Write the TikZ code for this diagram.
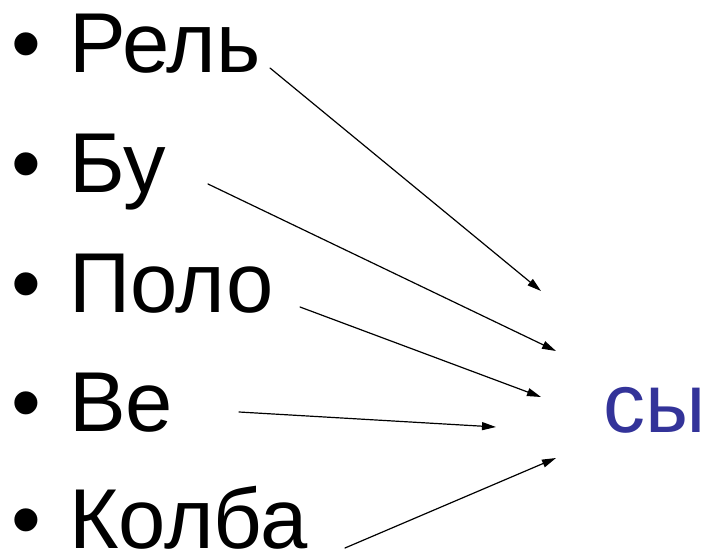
\documentclass[tikz,border=0pt]{standalone}
\usepackage{fontspec}
\setmainfont{Liberation Sans}
\usetikzlibrary{arrows.meta}
\definecolor{syblue}{RGB}{51,51,153}

\begin{document}
\begin{tikzpicture}[line cap=round,line join=round,x=1pt,y=-1pt,
    word/.style={anchor=base west,inner sep=0pt,font=\fontsize{85}{85}\selectfont},
    link/.style={-{Triangle[length=14pt,width=8pt]},line width=1.2pt}]
	\useasboundingbox (0,0) rectangle (705,554);
	% bullets and words
	\foreach \w/\t/\yy in {rel/Рель/72, bu/Бу/192, polo/Поло/312, ve/Ве/431, kolba/Колба/548}{
		\node[word] (dot-\w) at (11,\yy) {•};
		\node[word] (\w) at (69,\yy) {\t};
	}
	\node[word,color=syblue,font=\fontsize{84}{84}\selectfont] (sy) at (603,432) {сы};

	% tails of the arrows
	\coordinate (rel-out) at (270,68);
	\coordinate (bu-out) at (208,184);
	\coordinate (polo-out) at (300,307);
	\coordinate (ve-out) at (239,412);
	\coordinate (kolba-out) at (345,548);
	% tips near the right word
	\coordinate (sy-1) at (541,291);
	\coordinate (sy-2) at (556,351);
	\coordinate (sy-3) at (541,397);
	\coordinate (sy-4) at (496,427);
	\coordinate (sy-5) at (556,458);

	\draw [link] (rel-out) -- (sy-1);
	\draw [link] (bu-out) -- (sy-2);
	\draw [link] (polo-out) -- (sy-3);
	\draw [link] (ve-out) -- (sy-4);
	\draw [link] (kolba-out) -- (sy-5);
\end{tikzpicture}
\end{document}
